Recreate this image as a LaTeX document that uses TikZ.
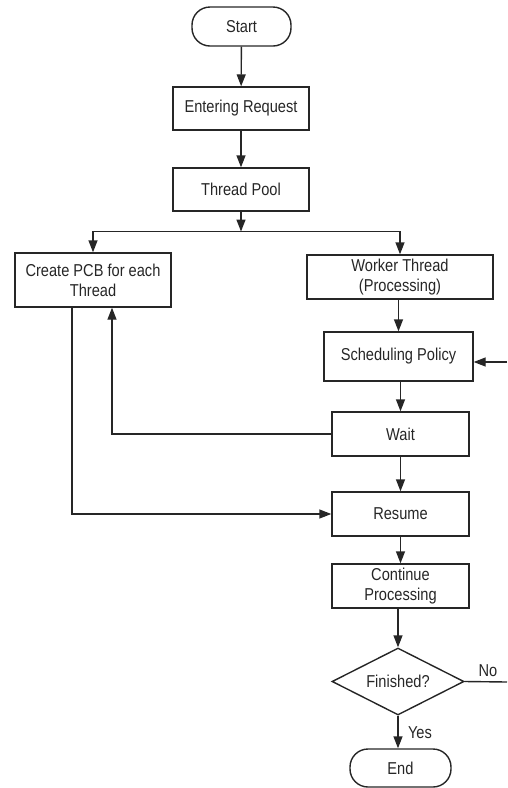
\documentclass[tikz,border=0pt]{standalone}
\usepackage{fontspec}
\setmainfont{Liberation Sans}[FakeStretch=0.85]
\usetikzlibrary{shapes.geometric,arrows.meta}
\begin{document}
\begin{tikzpicture}[x=1pt,y=-1pt,
  every node/.style={font=\fontsize{17.2}{20}\selectfont, text=black!85},
  box/.style={draw=black!85, line width=1.4pt, inner sep=0pt, align=center},
  term/.style={box, rounded corners=18pt},
  dec/.style={draw=black!85, line width=1.4pt, diamond, aspect=2, inner sep=0pt},
  conn/.style={draw=black!85, line width=1.4pt},
  arr/.style={conn, -{Triangle[length=12pt,width=9pt]}}
]
\useasboundingbox (0,0) rectangle (507,788);
\node[term, minimum width=99pt, minimum height=39pt] (start) at (241.5,26.5) {Start};
\node[box, minimum width=136pt, minimum height=43pt] (enter) at (241,108.5) {Entering Request};
\node[box, minimum width=136pt, minimum height=43pt] (pool) at (241,189.5) {Thread Pool};
\node[box, minimum width=156pt, minimum height=54pt] (pcb) at (93,280) {Create PCB for each\\Thread};
\node[box, minimum width=186pt, minimum height=44pt] (worker) at (400,277) {Worker Thread\\(Processing)};
\node[box, minimum width=149pt, minimum height=49pt] (sched) at (398.5,356.5) {Scheduling Policy};
\node[box, minimum width=137pt, minimum height=44pt] (wait) at (400.5,434) {Wait};
\node[box, minimum width=137pt, minimum height=44pt] (resume) at (400.5,514) {Resume};
\node[box, minimum width=137pt, minimum height=44pt] (cont) at (400.5,586) {Continue\\Processing};
\node[dec, minimum width=132pt, minimum height=67pt] (fin) at (398,681.5) {Finished?};
\node[term, minimum width=101pt, minimum height=38pt] (end) at (400.5,768) {End};

\coordinate (split) at (241,231.5);
\coordinate (schedin) at (507,362);
\coordinate (noend) at (507,682);

\draw[arr] (start) -- (enter);
\draw[arr] (enter) -- (pool);
\draw[arr] (pool) -- (split);
\draw[arr] (split) -| (pcb);
\draw[arr] (split) -| (worker);
\draw[arr] (worker.south -| sched) -- (sched);
\draw[arr] (schedin) -- (sched.east |- schedin);
\draw[arr] (sched.south -| wait) -- (wait);
\draw[arr] (wait.west) -| (112,0 |- pcb.south);
\draw[arr] (72,0 |- pcb.south) |- (resume.west);
\draw[arr] (wait) -- (resume);
\draw[arr] (resume) -- (cont);
\draw[arr] (cont.south -| fin) -- (fin);
\draw[arr] (fin) -- node[right, xshift=6pt, yshift=-1pt] {Yes} (end.north -| fin);
\draw[conn] (fin.east) -- node[above, pos=0.55, yshift=1pt] {No} (noend);
\end{tikzpicture}
\end{document}
